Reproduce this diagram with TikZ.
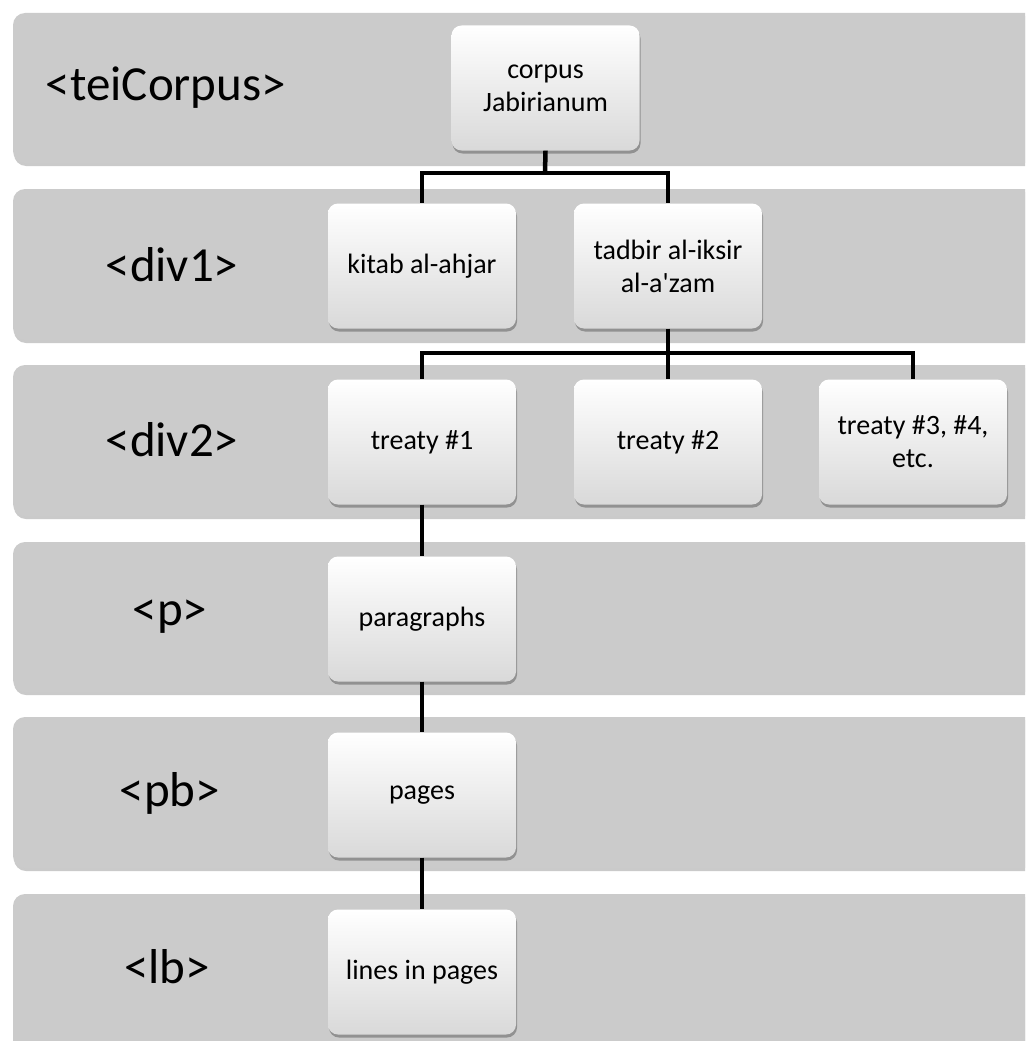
\documentclass[tikz,border=0pt]{standalone}
\usepackage{fontspec}
\setmainfont{Carlito}
\usetikzlibrary{shadows,positioning}
\definecolor{bandgray}{HTML}{CBCBCB}
\definecolor{boxbot}{HTML}{D9D9D9}
\tikzset{
  band/.style={fill=bandgray, draw=none, rounded corners=12pt,
    drop shadow={shadow xshift=1pt, shadow yshift=-3pt, opacity=0.35, fill=black!60}},
  lbl/.style={font=\fontsize{49}{58}\selectfont, text=black},
  tbox/.style={draw=none, rounded corners=10pt, top color=white, bottom color=boxbot,
    minimum width=188pt, minimum height=125pt, align=center, inner sep=2pt,
    font=\fontsize{28}{33}\selectfont, text=black,
    drop shadow={shadow xshift=1pt, shadow yshift=-3pt, opacity=0.45, fill=black!70}},
  conn/.style={line width=4.5pt, draw=black}
}
\begin{document}
\begin{tikzpicture}[x=1pt,y=-1pt]
\useasboundingbox (0,0) rectangle (1025,1041);
\clip (0,0) rectangle (1025,1041);
% bands
\path[band] (13,13) rectangle (1045,163);
\path[band] (13,189) rectangle (1045,340);
\path[band] (13,365) rectangle (1045,516);
\path[band] (13,542) rectangle (1045,692);
\path[band] (13,717) rectangle (1045,868);
\path[band] (13,894) rectangle (1045,1060);
% labels
\node[lbl] (l1) at (166,88) {<teiCorpus>};
\node[lbl] (l2) at (172,265) {<div1>};
\node[lbl] (l3) at (172,440) {<div2>};
\node[lbl] (l4) at (170,617) {<p>};
\node[lbl] (l5) at (170,793) {<pb>};
\node[lbl] (l6) at (167,967) {<lb>};
% junction points
\coordinate (j1) at (545,173);
\coordinate (j2) at (668,353);
% boxes
\node[tbox] (corpus) at (545.5,88) {corpus\\Jabirianum};
\node[tbox] (kitab) at (422,266) {kitab al-ahjar};
\node[tbox] (tadbir) at (668,266) {tadbir al-iksir\\al-a\textquotesingle zam};
\node[tbox] (t1) at (422,442) {treaty \#1};
\node[tbox] (t2) at (668,442) {treaty \#2};
\node[tbox] (t3) at (913,442) {treaty \#3, \#4,\\etc.};
\node[tbox] (par) at (422,619) {paragraphs};
\node[tbox] (pag) at (422,795) {pages};
\node[tbox] (lin) at (422,972) {lines in pages};
% connectors
\draw[conn] (corpus.south) -- (j1);
\draw[conn] (j1) -| (kitab.north);
\draw[conn] (j1) -| (tadbir.north);
\draw[conn] (tadbir.south) -- (j2);
\draw[conn] (j2) -| (t1.north);
\draw[conn] (j2) -- (t2.north);
\draw[conn] (j2) -| (t3.north);
\draw[conn] (t1.south) -- (par.north);
\draw[conn] (par.south) -- (pag.north);
\draw[conn] (pag.south) -- (lin.north);
\end{tikzpicture}
\end{document}
